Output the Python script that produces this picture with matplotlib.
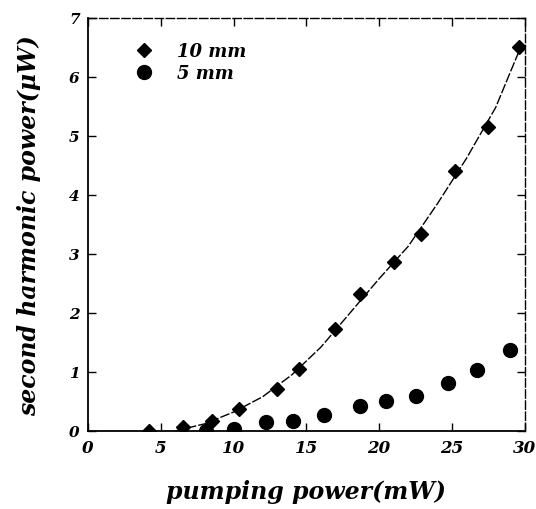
import numpy as np
import matplotlib
matplotlib.use("Agg")
import matplotlib.pyplot as plt

# ----------------------------
# Data
# ----------------------------
x_10mm = [4.2, 6.5, 8.5, 10.4, 13.0, 14.5, 17.0, 18.7, 21.0, 22.9, 25.2, 27.5, 29.6]
y_10mm = [0.00, 0.07, 0.17, 0.37, 0.71, 1.05, 1.73, 2.32, 2.86, 3.34, 4.40, 5.15, 6.50]

x_5mm = [8.1, 10.0, 12.2, 14.1, 16.2, 18.7, 20.5, 22.5, 24.7, 26.7, 29.0]
y_5mm = [0.00, 0.03, 0.15, 0.17, 0.27, 0.42, 0.51, 0.60, 0.82, 1.04, 1.38]

# hand-drawn fit through the 10 mm points
x_fit = [6.0, 8.0, 10.0, 12.0, 14.0, 16.0, 18.0, 20.0, 22.0, 24.0, 26.0, 28.0, 29.8]
y_fit = [0.00, 0.12, 0.32, 0.58, 0.95, 1.42, 2.00, 2.58, 3.13, 3.85, 4.62, 5.48, 6.55]

x_ticks = [0, 5, 10, 15, 20, 25, 30]
y_ticks = [0, 1, 2, 3, 4, 5, 6, 7]

FONT = dict(family="DejaVu Serif", style="italic", weight="bold")

fig = plt.figure(figsize=(5.36, 5.10), dpi=100)
ax = fig.add_axes([0.164, 0.153, 0.815, 0.81])

ax.plot(x_fit, y_fit, color="black", lw=1.0, ls=(0, (7, 1.5)))
ax.plot(x_10mm, y_10mm, ls="none", marker="D", ms=7.5, color="black", label="10 mm")
ax.plot(x_5mm, y_5mm, ls="none", marker="o", ms=10, color="black", label="5 mm")

ax.set_xlim(0, 30)
ax.set_ylim(0, 7)
ax.set_xticks(x_ticks)
ax.set_yticks(y_ticks)
ax.set_xticklabels([str(t) for t in x_ticks], fontsize=12, **FONT)
ax.set_yticklabels([str(t) for t in y_ticks], fontsize=11, **FONT)
ax.tick_params(direction="in", length=6, width=1.0, top=True, right=True, pad=6)

for side in ["left", "bottom"]:
    ax.spines[side].set_linewidth(1.3)
for side in ["top", "right"]:
    ax.spines[side].set_linewidth(1.0)
    ax.spines[side].set_linestyle((0, (6, 2)))

ax.set_xlabel("pumping power(mW)", fontsize=17, labelpad=16, **FONT)
ax.set_ylabel("second harmonic power(\u03bcW)", fontsize=17, labelpad=20, **FONT)

leg = ax.legend(loc="upper left", frameon=False, bbox_to_anchor=(0.05, 0.98),
                prop=dict(family="DejaVu Serif", style="italic", weight="bold", size=13),
                handletextpad=0.8, labelspacing=0.2, markerscale=1.0)

fig.savefig("out.png", dpi=100)
